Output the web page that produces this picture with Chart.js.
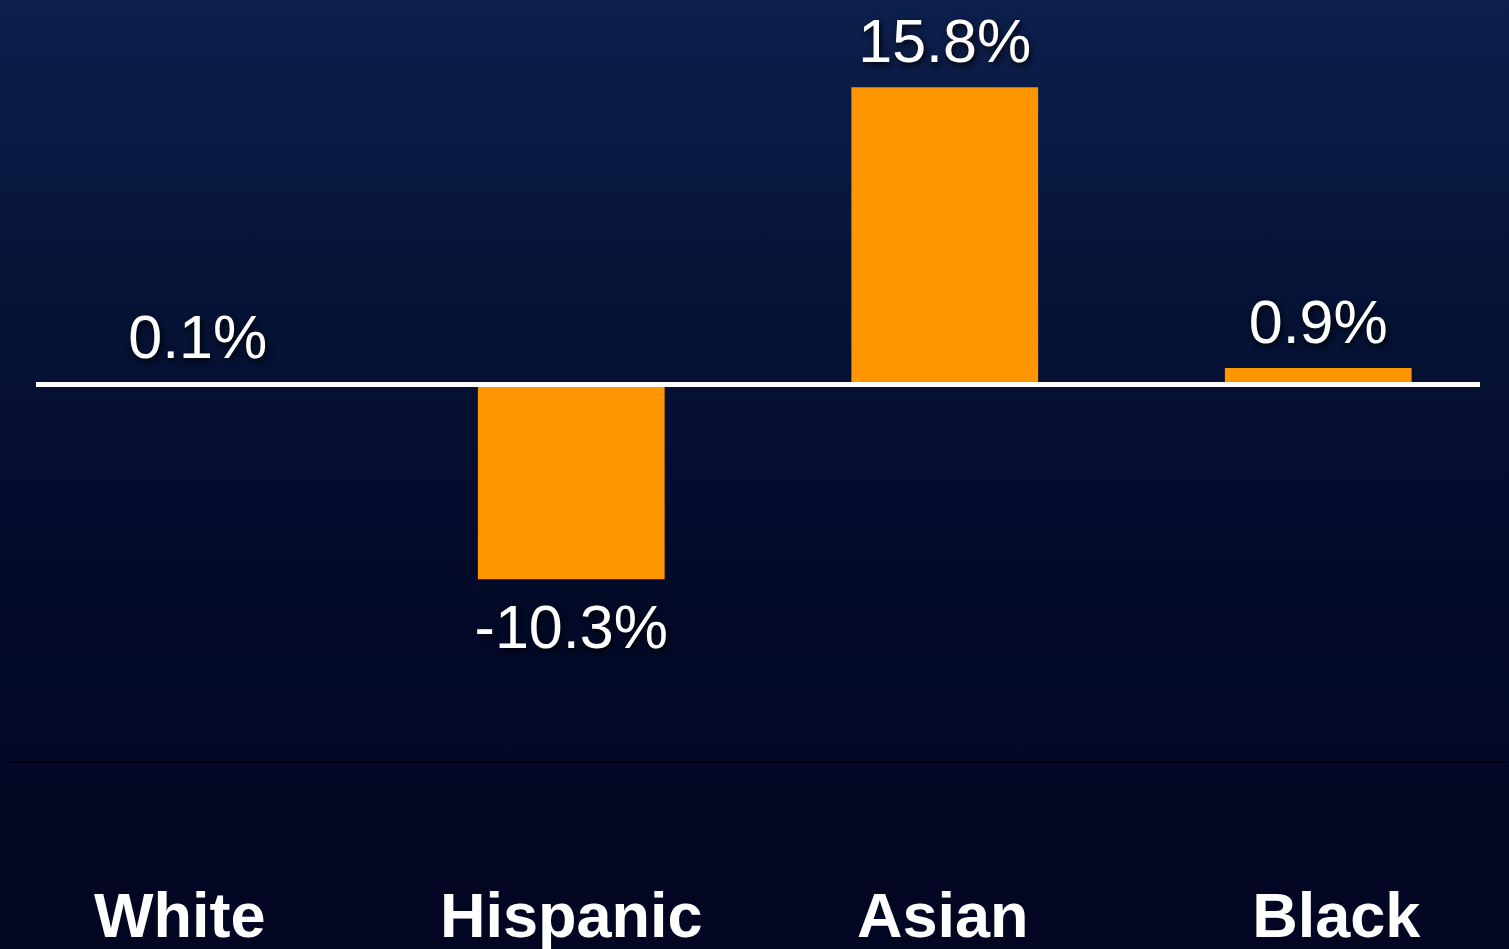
<!DOCTYPE html>
<html>
<head>
<meta charset="utf-8">
<title>Change by group</title>
<script src="https://cdn.jsdelivr.net/npm/chart.js@4.4.1/dist/chart.umd.min.js"></script>
<style>
  html, body {
    margin: 0;
    padding: 0;
    width: 1509px;
    height: 949px;
    overflow: hidden;
    background: linear-gradient(to bottom, #0d1f4c 0%, #061336 32%, #030a28 63%, #020622 100%);
  }
  #wrap { position: relative; width: 1509px; height: 949px; }
</style>
</head>
<body>
<div id="wrap"><canvas id="chart"></canvas></div>
<script>
// chart data
const groups = ['White', 'Hispanic', 'Asian', 'Black'];
const changePct = [0.1, -10.3, 15.8, 0.9];
const valueLabels = ['0.1%', '-10.3%', '15.8%', '0.9%'];

const barColor = '#ff9500';
const fontFamily = '"Liberation Sans", Arial, sans-serif';

// the category names are not quite centred under the bars in the original
const labelNudge = [-18, 0, -2, 18];

// white zero line, value labels with a soft shadow, category names
const overlayPlugin = {
    id: 'overlay',
    afterDatasetsDraw(chart) {
        const ctx = chart.ctx;
        const xScale = chart.scales.x;
        const yScale = chart.scales.y;
        const zeroY = yScale.getPixelForValue(0);

        ctx.save();
        ctx.strokeStyle = '#ffffff';
        ctx.lineWidth = 5;
        ctx.beginPath();
        ctx.moveTo(36, zeroY - 0.5);
        ctx.lineTo(1480, zeroY - 0.5);
        ctx.stroke();

        ctx.textAlign = 'center';
        ctx.textBaseline = 'alphabetic';
        ctx.fillStyle = '#ffffff';

        // category names under the axis
        ctx.font = 'bold 63px ' + fontFamily;
        groups.forEach((g, i) => {
            ctx.fillText(g, xScale.getPixelForValue(i) + labelNudge[i], chart.chartArea.bottom + 175);
        });

        ctx.font = '61px ' + fontFamily;
        ctx.shadowColor = 'rgba(0, 0, 0, 0.85)';
        ctx.shadowBlur = 6;
        ctx.shadowOffsetX = 2;
        ctx.shadowOffsetY = 3;

        const meta = chart.getDatasetMeta(0);
        meta.data.forEach((bar, i) => {
            const v = changePct[i];
            if (v >= 0) {
                ctx.textBaseline = 'alphabetic';
                ctx.fillText(valueLabels[i], bar.x, Math.min(bar.y, zeroY) - 25);
            } else {
                ctx.textBaseline = 'top';
                ctx.fillText(valueLabels[i], bar.x, bar.y + 22);
            }
        });
        ctx.restore();
    }
};

new Chart(document.getElementById('chart'), {
    type: 'bar',
    data: {
        labels: groups,
        datasets: [{
            data: changePct,
            backgroundColor: barColor,
            borderWidth: 0,
            barPercentage: 0.5,
            categoryPercentage: 1.0
        }]
    },
    options: {
        responsive: true,
        maintainAspectRatio: false,
        animation: false,
        layout: {
            padding: { top: 8, left: 11, right: 4, bottom: 187 }
        },
        plugins: {
            legend: { display: false },
            tooltip: { enabled: false }
        },
        scales: {
            x: {
                grid: { display: false, drawTicks: false },
                border: { display: true, color: '#00000c', width: 2 },
                ticks: { display: false }
            },
            y: {
                display: false,
                min: -20,
                max: 20
            }
        }
    },
    plugins: [overlayPlugin]
});
</script>
</body>
</html>
